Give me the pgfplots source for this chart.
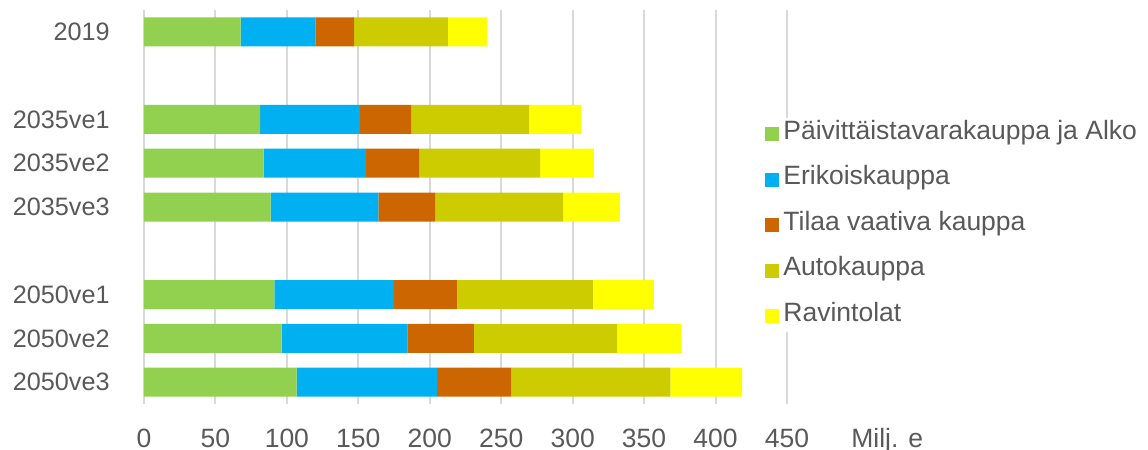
\documentclass[border=0pt]{standalone}
\usepackage{pgfplots}
\usepackage{pgfplotstable}
\pgfplotsset{compat=1.18}
\usepackage{fontspec}
\setmainfont{Liberation Sans}
\definecolor{cgreen}{HTML}{92D050}
\definecolor{cblue}{HTML}{00B0F0}
\definecolor{corange}{HTML}{CC6600}
\definecolor{colive}{HTML}{CCCC00}
\definecolor{cyellow}{HTML}{FFFF00}
\definecolor{ctext}{HTML}{595959}
\definecolor{cgrid}{HTML}{D9D9D9}
\newcommand{\cf}{\fontsize{13.25}{15.9}\selectfont}
\newcommand{\cfy}{\fontsize{12.6}{15.1}\selectfont}

\pgfplotstableread{
pos g b o a y
0 67.7 52.3 27.1 65.6 27.3
2 81.2 69.8 36.0 82.6 36.4
3 83.8 71.5 37.3 84.7 37.6
4 88.7 75.4 39.7 89.6 39.7
6 91.3 83.5 44.2 95.2 42.7
7 96.4 88.0 46.5 100.3 44.9
8 106.9 98.0 52.2 111.3 50.2
}\data

\begin{document}
\begin{tikzpicture}
\path[use as bounding box] (-72pt,-23pt) rectangle (502pt,202pt);
\begin{axis}[
  at={(0pt,0pt)}, anchor=south west,
  scale only axis, width=321.5pt, height=197pt,
  xbar stacked, bar width=14.5pt,
  xmin=0, xmax=450, ymin=-0.5, ymax=8.5, y dir=reverse,
  xtick={0,50,...,450}, ytick={0,2,3,4,6,7,8},
  yticklabels={2019,2035ve1,2035ve2,2035ve3,2050ve1,2050ve2,2050ve3},
  xmajorgrids, major grid style={cgrid, line width=1pt},
  axis line style={draw=none}, major tick length=0pt,
  /pgf/number format/assume math mode=true,
  /pgf/number format/1000 sep={},
  xticklabel style={font=\cf, text=ctext, anchor=base, inner sep=0pt, yshift=-21.5pt},
  yticklabel style={font=\cfy, text=ctext, anchor=east, inner sep=0pt, xshift=-17pt},
  xlabel={Milj. e},
  x label style={at={(axis description cs:1,0)}, anchor=base west, inner sep=0pt, xshift=32pt, yshift=-21.5pt, font=\cf, text=ctext},
  legend image code/.code={\fill[#1] (0pt,-3.5pt) rectangle (7pt,3.5pt);},
  legend cell align=left,
  legend style={at={(axis description cs:0.9565,0.726)}, anchor=north west, draw=none, fill=white, inner sep=3pt,
    font=\cf, text=ctext, row sep=12.75pt, column sep=2pt,
    nodes={inner sep=0pt, text height=0.75em, text depth=0.25em}},
]
\addplot[fill=cgreen, draw=none] table[x=g, y=pos] {\data};
\addplot[fill=cblue, draw=none] table[x=b, y=pos] {\data};
\addplot[fill=corange, draw=none] table[x=o, y=pos] {\data};
\addplot[fill=colive, draw=none] table[x=a, y=pos] {\data};
\addplot[fill=cyellow, draw=none] table[x=y, y=pos] {\data};
\legend{Päivittäistavarakauppa ja Alko, Erikoiskauppa, Tilaa vaativa kauppa, Autokauppa, Ravintolat}
\end{axis}
\end{tikzpicture}
\end{document}
